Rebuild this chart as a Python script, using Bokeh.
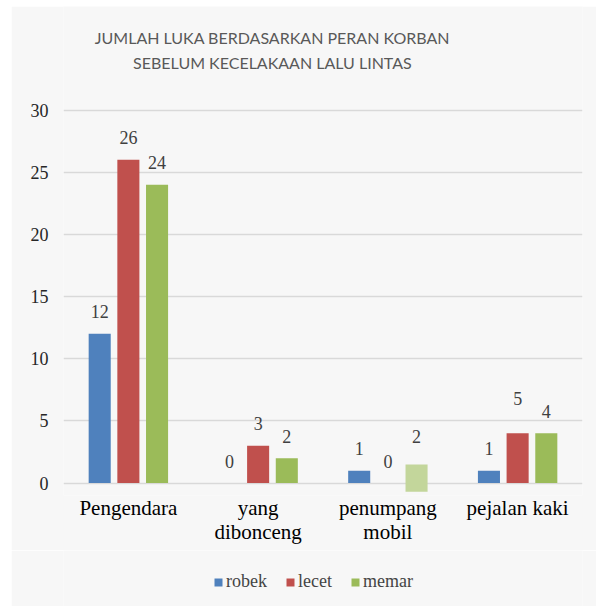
from bokeh.plotting import figure
from bokeh.layouts import column
from bokeh.models import (FactorRange, Range1d, FixedTicker, Label, Legend,
                          LegendItem, ColumnDataSource)
from bokeh.transform import dodge
from bokeh.core.properties import value
from bokeh.embed import file_html
from bokeh.resources import INLINE

# ---------------- data ----------------
title_lines = ["JUMLAH LUKA BERDASARKAN PERAN KORBAN",
               "SEBELUM KECELAKAAN LALU LINTAS"]
categories = ["Pengendara", "yang\ndibonceng", "penumpang\nmobil", "pejalan kaki"]
series_names = ["robek", "lecet", "memar"]
robek = [12, 0, 1, 1]
lecet = [26, 3, 0, 4]
memar = [24, 2, 0, 4]
robek_labels = [12, 0, 1, 1]
lecet_labels = [26, 3, 0, 5]
memar_labels = [24, 2, 2, 4]
# faded memar bar shown for "penumpang mobil"
faded_category = ["penumpang\nmobil"]
faded_top = [1.5]
faded_bottom = [-0.7]
y_ticks = [0, 5, 10, 15, 20, 25, 30]

colors = ["#4f81bd", "#c0504d", "#9bbb59"]
faded_color = "#c3d69b"
offsets = [-0.221, 0.0, 0.221]
bar_w = 0.17
serif = "Liberation Serif"
bg = "#f7f7f7"

src = ColumnDataSource(dict(
    cat=categories,
    robek=robek, lecet=lecet, memar=memar,
    robek_lbl=robek_labels, lecet_lbl=lecet_labels, memar_lbl=memar_labels,
    robek_txt=[str(v) for v in robek_labels],
    lecet_txt=[str(v) for v in lecet_labels],
    memar_txt=[str(v) for v in memar_labels],
))
faded_src = ColumnDataSource(dict(cat=faded_category, top=faded_top, bottom=faded_bottom))

p = figure(x_range=FactorRange(factors=categories, range_padding=0),
           y_range=Range1d(-1, 38.33),
           width=585, height=544,
           output_backend="svg", toolbar_location=None,
           min_border_left=52, min_border_right=14, min_border_top=0,
           min_border_bottom=55)
p.background_fill_color = bg
p.border_fill_color = bg
p.outline_line_color = None

# axes
p.yaxis.ticker = FixedTicker(ticks=y_ticks)
p.yaxis.axis_line_color = None
p.yaxis.major_tick_line_color = None
p.yaxis.minor_tick_line_color = None
p.yaxis.major_tick_out = 0
p.yaxis.major_tick_in = 0
p.yaxis.major_label_standoff = 15
p.yaxis.major_label_text_font = serif
p.yaxis.major_label_text_font_size = "18px"
p.yaxis.major_label_text_color = "#262626"

p.xaxis.axis_line_color = None
p.xaxis.major_tick_line_color = None
p.xaxis.major_tick_out = 0
p.xaxis.major_tick_in = 0
p.xaxis.major_label_standoff = 0
p.xaxis.major_label_text_font = serif
p.xaxis.major_label_text_font_size = "21px"
p.xaxis.major_label_text_color = "#000000"
p.xaxis.major_label_text_line_height = 1.0

p.xgrid.grid_line_color = None
p.ygrid.ticker = FixedTicker(ticks=y_ticks)
p.ygrid.grid_line_color = "#d9d9d9"
p.ygrid.grid_line_width = 1.5

for name, col, off in zip(series_names, colors, offsets):
    p.vbar(x=dodge("cat", off, range=p.x_range), top=name, bottom=0,
           width=bar_w, source=src, fill_color=col, line_color=None)
    p.text(x=dodge("cat", off, range=p.x_range), y=name + "_lbl", text=name + "_txt",
           source=src, y_offset=-22, text_align="center", text_baseline="middle",
           text_font=value(serif), text_font_size="18px", text_color="#404040")

p.vbar(x=dodge("cat", offsets[2], range=p.x_range), top="top", bottom="bottom",
       width=bar_w, source=faded_src, fill_color=faded_color, line_color=None)

# title (two centred lines inside the top of the frame)
for t, yy in zip(title_lines, [35.85, 33.85]):
    p.add_layout(Label(x=1.61, y=yy, text=t, text_align="center",
                       text_baseline="middle", text_font="Lato",
                       text_font_size="16px", text_color="#595959"))

# ---------------- legend strip ----------------
p2 = figure(x_range=Range1d(0, 1), y_range=Range1d(0, 1), width=585, height=56,
            output_backend="svg", toolbar_location=None,
            x_axis_location=None, y_axis_location=None,
            min_border_left=52, min_border_right=14, min_border_top=0,
            min_border_bottom=0)
p2.background_fill_color = bg
p2.border_fill_color = bg
p2.outline_line_color = None
p2.grid.grid_line_color = None
# key glyphs only (kept outside the strip's visible range)
key_src = ColumnDataSource(dict(x=[-5], top=[0]))
key_renderers = [p2.vbar(x="x", top="top", width=0.1, source=key_src,
                         fill_color=c, line_color=None)
                 for c in colors]
legend = Legend(items=[LegendItem(label=n, renderers=[r])
                       for n, r in zip(series_names, key_renderers)],
                orientation="horizontal", location=(150, 14),
                glyph_width=10, glyph_height=10, label_standoff=3, spacing=18,
                label_text_font=serif, label_text_font_size="18px",
                border_line_color=None, background_fill_alpha=0,
                padding=0, margin=0)
p2.add_layout(legend, "center")

layout = column(p, p2, spacing=0)
layout.margin = (6, 0, 0, 11)

open("out.html", "w").write(file_html(layout, INLINE))
